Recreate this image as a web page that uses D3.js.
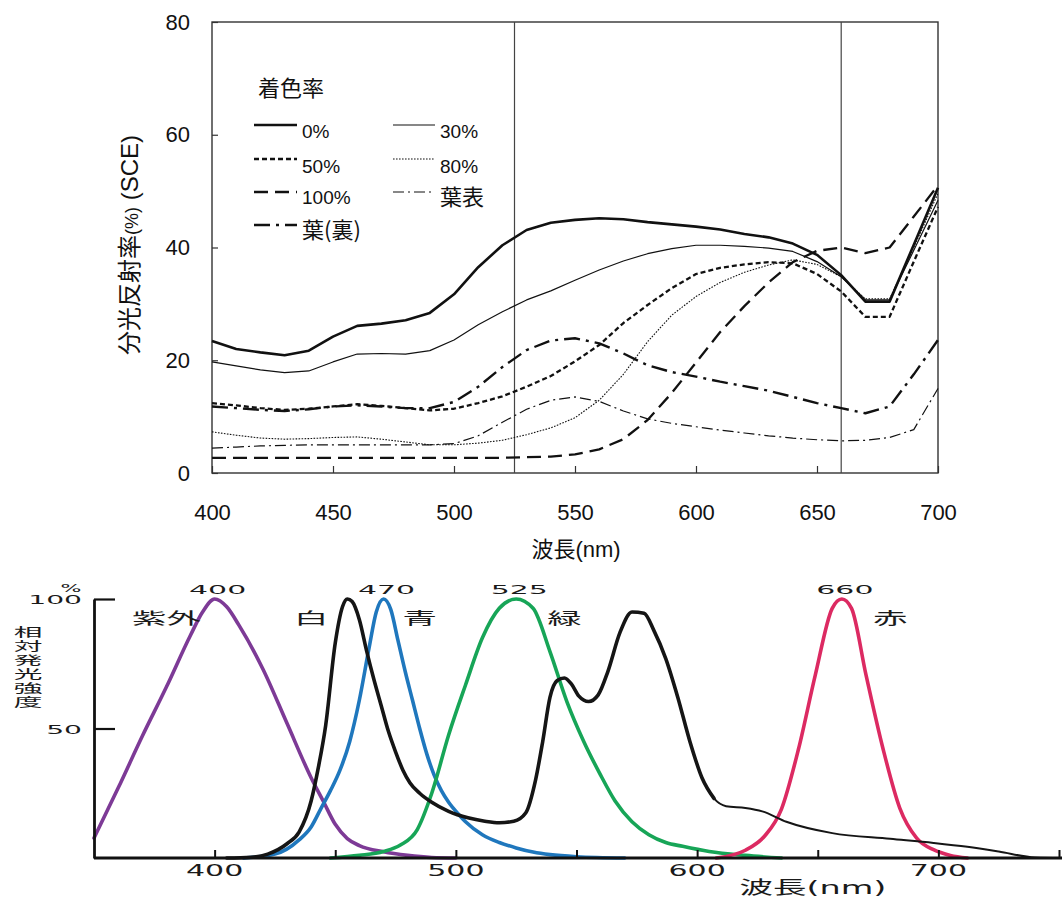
<!DOCTYPE html>
<html>
<head>
<meta charset="utf-8">
<script src="https://cdn.jsdelivr.net/npm/d3@7"></script>
<style>
  body { margin: 0; background: #fff; }
  svg { display: block; }
</style>
</head>
<body>
<div class="canvas"></div>
<script>
// ---- top chart: spectral reflectance (SCE) ----
const wavelengths = [400, 410, 420, 430, 440, 450, 460, 470, 480, 490, 500, 510, 520, 530, 540, 550,
  560, 570, 580, 590, 600, 610, 620, 630, 640, 650, 660, 670, 680, 690, 700]

const rate0 = [23.4, 22.0, 21.4, 20.9, 21.7, 24.2, 26.1, 26.5, 27.1, 28.4, 31.7, 36.5, 40.4, 43.1, 44.4, 44.9,
  45.2, 45.0, 44.5, 44.1, 43.7, 43.2, 42.4, 41.8, 40.7, 38.7, 35.1, 30.4, 30.4, 40.5, 50.6]
const rate30 = [19.7, 19.0, 18.3, 17.8, 18.1, 19.7, 21.1, 21.2, 21.1, 21.7, 23.6, 26.3, 28.6, 30.7, 32.3, 34.2,
  36.0, 37.6, 38.9, 39.8, 40.4, 40.4, 40.2, 39.9, 39.3, 37.5, 34.8, 30.7, 30.7, 39.5, 48.4]
const rate50 = [12.4, 12.0, 11.5, 11.2, 11.4, 11.8, 12.2, 11.9, 11.5, 11.1, 11.4, 12.4, 13.6, 15.3, 17.2, 19.8,
  22.7, 26.6, 29.8, 32.8, 35.3, 36.4, 37.0, 37.4, 37.2, 35.3, 32.2, 27.7, 27.7, 37.5, 47.2]
const rate80 = [7.3, 6.7, 6.2, 6.0, 6.1, 6.3, 6.4, 6.0, 5.5, 5.0, 5.0, 5.3, 5.8, 6.8, 8.0, 9.8,
  12.9, 17.5, 23.3, 28.0, 31.3, 33.8, 35.6, 36.9, 37.8, 37.0, 34.8, 30.9, 30.9, 40.0, 49.6]
const rate100 = [2.7, 2.7, 2.7, 2.7, 2.7, 2.7, 2.7, 2.7, 2.7, 2.7, 2.7, 2.7, 2.7, 2.8, 2.9, 3.3,
  4.2, 6.0, 9.4, 14.2, 19.6, 25.0, 29.6, 33.8, 37.4, 39.4, 40.0, 39.0, 40.0, 45.5, 51.0]
const leafFront = [4.4, 4.6, 4.8, 4.9, 5.0, 5.0, 5.0, 5.0, 5.0, 5.0, 5.2, 6.6, 9.0, 11.3, 12.9, 13.5,
  12.7, 11.0, 9.6, 8.8, 8.2, 7.6, 7.1, 6.6, 6.2, 5.9, 5.7, 5.8, 6.3, 7.7, 15.0]
const leafBack = [11.8, 11.5, 11.2, 11.0, 11.3, 11.8, 12.0, 11.8, 11.5, 11.5, 12.6, 15.3, 18.8, 21.8, 23.5, 23.9,
  23.0, 21.2, 19.1, 17.9, 17.1, 16.2, 15.4, 14.6, 13.5, 12.4, 11.5, 10.6, 11.8, 17.5, 23.6]

const seriesNames = ['0%', '30%', '50%', '80%', '100%', '葉表', '葉(裏)']
const xTicksTop = [400, 450, 500, 550, 600, 650, 700]
const yTicksTop = [0, 20, 40, 60, 80]
const markerLines = [525, 660]

// ---- bottom chart: LED relative emission ----
const uvCurve = [[350, 7.7], [360, 27], [370, 47], [380, 66], [390, 86], [395, 95], [400, 100], [405, 97],
  [410, 90], [420, 73], [430, 52], [440, 31], [445, 22], [450, 13], [455, 7.5], [460, 4.8], [470, 2.4],
  [480, 1], [490, 0.2], [500, 0]]
const whiteCurve = [[405, 0], [415, 0.3], [422, 1.5], [430, 5.5], [435, 10], [440, 22], [443, 35], [446, 51],
  [450, 83], [453, 97], [455, 100], [457, 99], [460, 92], [463, 80], [466, 69], [469, 59], [472, 49],
  [475, 41], [478, 34], [481, 29], [485, 25], [490, 21.5], [497, 18], [505, 15.5], [512, 14.2], [518, 13.6],
  [524, 14.2], [529, 17.5], [533, 30], [536, 45], [539, 62], [542, 68.5], [545, 69.5], [548, 67],
  [551, 62.5], [555, 60.4], [559, 63], [563, 72], [568, 87], [573, 95], [578, 94.5], [582, 88], [587, 77],
  [592, 62], [597, 45], [602, 31], [607, 23], [612, 20], [620, 19.3], [627, 18], [637, 14], [656, 9.6],
  [680, 7.4], [698, 5.8], [712, 4.3], [725, 2.5], [740, 0.2], [752, 0]]
const blueCurve = [[412, 0], [425, 1.5], [435, 7], [440, 12], [444, 19], [448, 26], [452, 34], [456, 45],
  [460, 61], [464, 81], [467, 95], [470, 100], [473, 96], [476, 84], [479, 72], [482, 61], [485, 50],
  [488, 40], [491, 32], [494, 26], [497, 21.5], [501, 17], [504, 14], [511, 9], [518, 6], [525, 3.9],
  [532, 2.3], [539, 1.3], [550, 0.5], [570, 0]]
const greenCurve = [[448, 0], [460, 1], [470, 2.5], [477, 5], [484, 11], [490, 25], [497, 47.5], [504, 66.8],
  [511, 85], [518, 96.4], [525, 100], [532, 96.4], [539, 79.7], [546, 60.4], [553, 45], [560, 32],
  [566, 22], [573, 14], [580, 9], [587, 6], [594, 4.5], [605, 2.5], [620, 1], [635, 0]]
const redCurve = [[608, 0], [620, 3], [628, 8.5], [635, 19], [642, 42], [649, 70.7], [656, 96.4], [660, 100],
  [664, 96.4], [670, 70.7], [677, 42.4], [684, 19.3], [691, 7.7], [698, 3.2], [705, 1], [712, 0]]

const peakLabels = [400, 470, 525, 660]
const ledNames = ['紫外', '白', '青', '緑', '赤']
const ledNameAt = [380, 440, 485, 545, 680] // wavelength where each name sits
const xTicksBottom = [400, 450, 500, 550, 600, 650, 700, 750]
const xLabelsBottom = [400, 500, 600, 700]
const yTicksBottom = [50, 100]

const svg = d3.select('.canvas')
  .append('svg')
  .attr('width', 1062)
  .attr('height', 898)

// ================= top chart =================
const topG = svg.append('g')
  .style('font-family', '"Liberation Sans", Arial, "Noto Sans CJK JP", sans-serif')

const x = d3.scaleLinear().domain([400, 700]).range([212, 938])
const y = d3.scaleLinear().domain([0, 80]).range([473, 22])

const xAxisTop = d3.axisBottom(x).tickValues(xTicksTop).tickSize(-7).tickPadding(31).tickSizeOuter(0)
const yAxisTop = d3.axisLeft(y).tickValues(yTicksTop).tickSize(-6).tickPadding(22).tickSizeOuter(0)

const xg = topG.append('g').attr('transform', `translate(0, ${y(0)})`).call(xAxisTop)
const yg = topG.append('g').attr('transform', `translate(${x(400)}, 0)`).call(yAxisTop)
;[xg, yg].forEach(g => {
  g.select('.domain').remove()
  g.selectAll('line').attr('stroke', '#333').attr('stroke-width', 1.2)
  g.selectAll('text').attr('fill', '#111').style('font-size', '22px')
    .style('font-family', '"Liberation Sans", Arial, sans-serif')
})

topG.append('rect')
  .attr('x', x(400)).attr('y', y(80))
  .attr('width', x(700) - x(400)).attr('height', y(0) - y(80))
  .attr('fill', 'none').attr('stroke', '#333').attr('stroke-width', 1.4)

topG.selectAll('.marker')
  .data(markerLines)
  .enter().append('line')
  .attr('x1', d => x(d)).attr('x2', d => x(d))
  .attr('y1', y(80)).attr('y2', y(0))
  .attr('stroke', '#444').attr('stroke-width', 1.2)

const topSeries = [rate0, rate30, rate50, rate80, rate100, leafFront, leafBack]
const topStyles = [
  { w: 2.6, dash: null },
  { w: 1.2, dash: null },
  { w: 2.3, dash: '5,3' },
  { w: 1.1, dash: '1.6,1.4' },
  { w: 2.3, dash: '14,7' },
  { w: 1.2, dash: '11,4,2,4' },
  { w: 2.4, dash: '16,6,3,6' }
]

const lineTop = d3.line()
  .x((d, i) => x(wavelengths[i]))
  .y(d => y(d))

topG.selectAll('.series')
  .data(topSeries)
  .enter().append('path')
  .attr('d', d => lineTop(d))
  .attr('fill', 'none')
  .attr('stroke', '#111')
  .attr('stroke-width', (d, i) => topStyles[i].w)
  .attr('stroke-dasharray', (d, i) => topStyles[i].dash)
  .attr('stroke-linejoin', 'round')

// legend
topG.append('text').attr('x', 258).attr('y', 88).attr('dy', '0.35em')
  .style('font-size', '22px').style('font-family', '"Noto Sans CJK JP", sans-serif')
  .attr('fill', '#111').text('着色率')

const legCol = [[254, 297, 302], [393, 435, 440]]
const legLineY = [125, 159, 192, 225]
const legTextY = [131, 166, 197, 230]
seriesNames.forEach((name, i) => {
  const c = legCol[i % 2]
  const r = Math.floor(i / 2)
  topG.append('line')
    .attr('x1', c[0]).attr('x2', c[1])
    .attr('y1', legLineY[r]).attr('y2', legLineY[r])
    .attr('stroke', '#111')
    .attr('stroke-width', topStyles[i].w)
    .attr('stroke-dasharray', topStyles[i].dash)
  const isCjk = /[^\x00-\x7f]/.test(name)
  topG.append('text')
    .attr('x', c[2]).attr('y', legTextY[r]).attr('dy', '0.35em')
    .attr('fill', '#111')
    .style('font-size', isCjk ? '22px' : '19px')
    .style('font-family', isCjk ? '"Noto Sans CJK JP", sans-serif' : '"Liberation Sans", Arial, sans-serif')
    .text(name)
})

// axis titles
topG.append('text')
  .attr('x', 576).attr('y', 549).attr('dy', '0.35em')
  .attr('text-anchor', 'middle').attr('fill', '#111')
  .style('font-size', '22px')
  .text('波長(nm)')

const yTitle = topG.append('text')
  .attr('transform', 'translate(130, 245) rotate(-90)')
  .attr('text-anchor', 'middle').attr('dy', '0.35em').attr('fill', '#111')
  .style('font-size', '24px')
yTitle.append('tspan').text('分光反射率')
yTitle.append('tspan').style('font-size', '18px').text('(%)')
yTitle.append('tspan').text(' (SCE)')

// ================= bottom chart =================
const bottomG = svg.append('g')
  .style('font-family', '"DejaVu Sans", "Noto Sans CJK JP", sans-serif')

const bx = d3.scaleLinear().domain([350, 750]).range([94, 1059])
const by = d3.scaleLinear().domain([0, 100]).range([858, 599])

// horizontally stretched text like the source figure
function wide(g, px, py, str, size, sx, anchor) {
  g.append('text')
    .attr('transform', `translate(${px}, ${py}) scale(${sx}, 1)`)
    .attr('text-anchor', anchor)
    .attr('dy', '0.36em')
    .attr('fill', '#1a1a1a')
    .style('font-size', size + 'px')
    .text(str)
}

const lineBottom = d3.line()
  .x(d => bx(d[0]))
  .y(d => by(d[1]))
  .curve(d3.curveMonotoneX)

const ledSeries = [
  { data: uvCurve, color: '#7d3a96', w: 3.6 },
  { data: blueCurve, color: '#1f77bd', w: 3.6 },
  { data: greenCurve, color: '#17a557', w: 3.6 },
  { data: redCurve, color: '#dc2a62', w: 3.6 },
  { data: whiteCurve, color: '#151515', w: 2.0 },
  { data: whiteCurve.filter(d => d[0] <= 607), color: '#151515', w: 3.6 }
]

bottomG.selectAll('.led')
  .data(ledSeries)
  .enter().append('path')
  .attr('d', d => lineBottom(d.data))
  .attr('fill', 'none')
  .attr('stroke', d => d.color)
  .attr('stroke-width', d => d.w)
  .attr('stroke-linejoin', 'round')
  .attr('stroke-linecap', 'round')

// axes
const bxAxis = d3.axisBottom(bx).tickValues(xTicksBottom).tickSize(-8).tickSizeOuter(0).tickFormat('')
const byAxis = d3.axisLeft(by).tickValues(yTicksBottom).tickSize(-21).tickSizeOuter(0).tickFormat('')

const bxg = bottomG.append('g').attr('transform', `translate(0, ${by(0)})`).call(bxAxis)
bxg.select('.domain').remove()
bxg.selectAll('line').attr('stroke', '#111').attr('stroke-width', 2)

bottomG.append('line')
  .attr('x1', bx(350)).attr('x2', 1062)
  .attr('y1', by(0)).attr('y2', by(0))
  .attr('stroke', '#111').attr('stroke-width', 2.8)

const byg = bottomG.append('g').attr('transform', `translate(${bx(350)}, 0)`).call(byAxis)
byg.select('.domain').attr('stroke', '#111').attr('stroke-width', 2.8)
byg.selectAll('line').attr('stroke', '#111').attr('stroke-width', 2.2)

// labels
yTicksBottom.forEach(v => wide(bottomG, 82, by(v) + 1, String(v), 12, 2.35, 'end'))
wide(bottomG, 71, 588, '%', 11, 2.0, 'middle')
xLabelsBottom.forEach(v => wide(bottomG, bx(v), 871, String(v), 15, 2.0, 'middle'))
peakLabels.forEach(v => wide(bottomG, bx(v) + 3, 589, String(v), 13, 2.3, 'middle'))
ledNames.forEach((n, i) => wide(bottomG, bx(ledNameAt[i]), 618, n, 16, 2.15, 'middle'))
wide(bottomG, 813, 888, '波長(nm)', 18, 1.86, 'middle')

const yTitleChars = ['相', '対', '発', '光', '強', '度']
yTitleChars.forEach((ch, i) => wide(bottomG, 28, 632 + i * 14, ch, 12.5, 2.3, 'middle'))
</script>
</body>
</html>
